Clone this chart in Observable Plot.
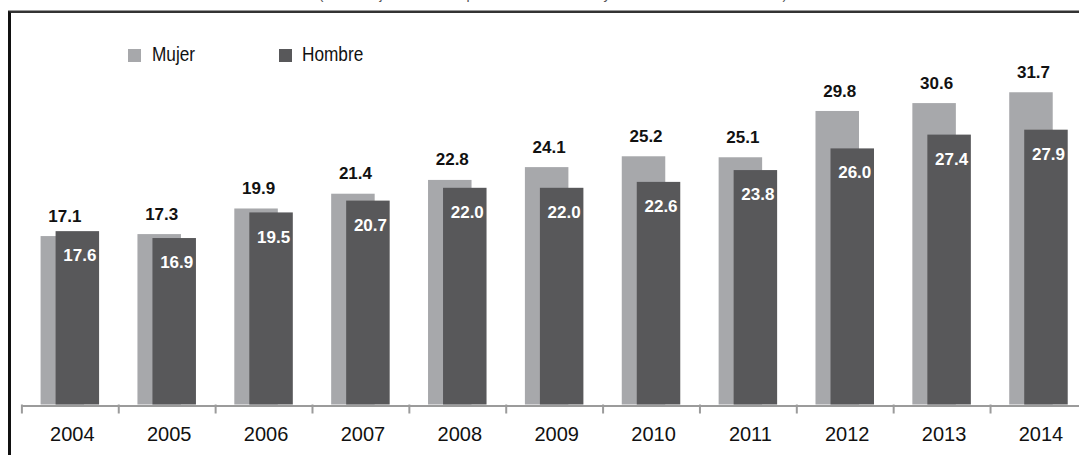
<!DOCTYPE html>
<html>
<head>
<meta charset="utf-8">
<script src="https://cdn.jsdelivr.net/npm/d3@7"></script>
<script src="https://cdn.jsdelivr.net/npm/@observablehq/plot@0.6"></script>
<style>
  html, body { margin: 0; padding: 0; background: #fff; width: 1079px; height: 455px; overflow: hidden; }
  #wrap { position: relative; width: 1079px; height: 455px; overflow: hidden; }
  #subtitle { position: absolute; left: 0; width: 1106px; top: -13px; text-align: center;
    font: 14px "Liberation Sans", Arial, sans-serif; line-height: 14px; color: #555; white-space: nowrap; }
  #frame { position: absolute; left: 8px; top: 11px; width: 1200px; height: 600px;
    border-left: 3px solid #111; border-top: 2px solid #333; box-shadow: 0 -1px 0 #999; }
  #chart { position: absolute; left: 0; top: 0; }
  #legend { position: absolute; left: 0; top: 0; width: 1079px; height: 80px;
    font: 21px "Liberation Sans", Arial, sans-serif; color: #111; }
  .sw { position: absolute; width: 13px; height: 13px; top: 49px; }
  .lt { position: absolute; top: 43px; line-height: 21px; transform: scaleX(0.82); transform-origin: 0 50%; white-space: nowrap; }
</style>
</head>
<body>
<div id="wrap">
  <div id="subtitle"></div>
  <div id="frame"></div>
  <div id="chart"></div>
  <div id="legend"></div>
</div>
<script>
const years = ["2004","2005","2006","2007","2008","2009","2010","2011","2012","2013","2014"];
const mujer = [17.1, 17.3, 19.9, 21.4, 22.8, 24.1, 25.2, 25.1, 29.8, 30.6, 31.7];
const hombre = [17.6, 16.9, 19.5, 20.7, 22.0, 22.0, 22.6, 23.8, 26.0, 27.4, 27.9];
const series = ["Mujer", "Hombre"];
const colors = ["#a7a8ab", "#58585a"];
const subtitleText = "(Porcentaje del total de población de 15 años y más de edad de cada sexo)";

document.getElementById("subtitle").textContent = subtitleText;

const rows = years.map((y, i) => ({year: y, mujer: mujer[i], hombre: hombre[i]}));

const step = (1086.9 - 21.4) / years.length;
const barW = 43.5, off = 7.5;
const inA = step / 2 - off - barW / 2;   // near inset
const inB = step - inA - barW;          // far inset

const numFont = '"Liberation Sans", Arial, sans-serif';

const chart = Plot.plot({
  width: 1079,
  height: 455,
  marginLeft: 21,
  marginRight: 0,
  marginTop: 0,
  marginBottom: 0,
  style: {background: "transparent", overflow: "visible"},
  x: {type: "band", domain: years, range: [21.4, 1086.9], padding: 0, round: false, axis: null},
  y: {domain: [0, 35], range: [404.5, 59.75], axis: null},
  marks: [
    Plot.barY(rows, {x: "year", y: "mujer", fill: colors[0], insetLeft: inA, insetRight: inB}),
    Plot.barY(rows, {x: "year", y: "hombre", fill: colors[1], insetLeft: inB, insetRight: inA}),
    Plot.ruleY([0], {stroke: "#9b9b9b", strokeWidth: 2, dy: 1}),
    Plot.ruleX(years, {x: d => d, y1: 0, y2: 0, insetBottom: -9, dx: -step / 2, stroke: "#9b9b9b", strokeWidth: 2}),
    Plot.text(rows, {x: "year", y: "mujer", text: d => d.mujer.toFixed(1), dx: -off + 2, dy: -27,
      lineAnchor: "top", fontFamily: numFont, fontWeight: "bold", fontSize: 17, fill: "#111"}),
    Plot.text(rows, {x: "year", y: "hombre", text: d => d.hombre.toFixed(1), dx: off + 2, dy: 17.5,
      lineAnchor: "top", fontFamily: numFont, fontWeight: "bold", fontSize: 17, fill: "#fff"}),
    Plot.text(years, {x: d => d, y: () => 0, text: d => d, dx: 2, dy: 22, lineAnchor: "top",
      fontFamily: numFont, fontSize: 20, fill: "#111", ariaLabel: "year-labels"})
  ]
});
document.getElementById("chart").appendChild(chart);

// condense year labels horizontally (narrow typeface look)
d3.select(chart).selectAll('g[aria-label="year-labels"] text').each(function () {
  const el = d3.select(this);
  const x = +el.attr("x") || 0;
  const y = +el.attr("y") || 0;
  const prev = el.attr("transform") || "";
  el.attr("transform", `${prev} translate(${x},${y}) scale(0.85,1) translate(${-x},${-y})`);
});

// legend
const legend = document.getElementById("legend");
const legPos = [[128, 152], [279, 302]];
series.forEach((s, i) => {
  const sw = document.createElement("div");
  sw.className = "sw";
  sw.style.left = legPos[i][0] + "px";
  sw.style.background = colors[i];
  legend.appendChild(sw);
  const t = document.createElement("div");
  t.className = "lt";
  t.style.left = legPos[i][1] + "px";
  t.textContent = s;
  legend.appendChild(t);
});
</script>
</body>
</html>
